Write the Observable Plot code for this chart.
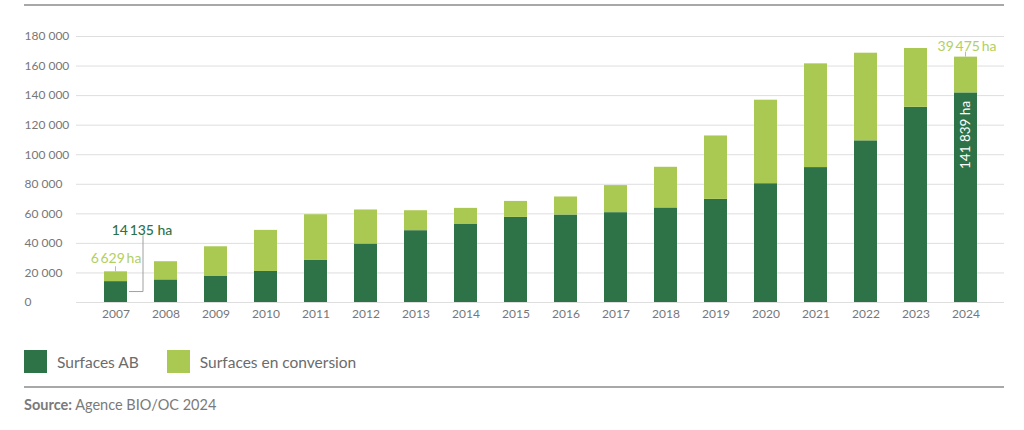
<!DOCTYPE html>
<html>
<head>
<meta charset="utf-8">
<script src="https://cdn.jsdelivr.net/npm/d3@7"></script>
<script src="https://cdn.jsdelivr.net/npm/@observablehq/plot@0.6"></script>
<style>
  html, body { margin: 0; padding: 0; background: #fff; }
  #wrap { position: relative; width: 1024px; height: 430px; font-family: "Lato", "Open Sans", sans-serif; overflow: hidden; }
  .hline { position: absolute; left: 24px; width: 980px; background: #a8a8a8; }
  #chart { position: absolute; left: 0; top: 0; }
  #legend { position: absolute; left: 24px; top: 350px; display: flex; align-items: center; font-size: 15.5px; color: #6b6b6b; }
  .sw { width: 23px; height: 23px; display: inline-block; margin-right: 10px; }
  .item { display: flex; align-items: center; margin-right: 28px; }
  #source { position: absolute; left: 24px; top: 396px; font-size: 14.5px; color: #7a7a7a; }
</style>
</head>
<body>
<div id="wrap">
  <div class="hline" style="top:4px;height:2px;"></div>
  <div id="chart"></div>
  <div id="legend"></div>
  <div class="hline" style="top:386px;height:1.5px;"></div>
  <div id="source"><b>Source:</b> Agence BIO/OC 2024</div>
</div>
<script>
// ---- Data ----
const years = ["2007","2008","2009","2010","2011","2012","2013","2014","2015","2016","2017","2018","2019","2020","2021","2022","2023","2024"];
const surfacesAB = [14135, 15300, 17900, 21000, 28700, 39600, 48600, 53100, 57600, 59200, 60800, 64000, 69800, 80400, 91300, 109400, 132100, 141839];
const surfacesConversion = [6629, 12300, 19800, 27800, 30700, 23000, 13500, 10600, 10800, 12200, 18300, 27500, 42900, 56500, 70200, 59300, 39800, 24200];
const seriesNames = ["Surfaces AB", "Surfaces en conversion"];
const seriesColors = ["#2e7247", "#a9c952"];
const yTicks = [0, 20000, 40000, 60000, 80000, 100000, 120000, 140000, 160000, 180000];
const labelFirstConv = "6\u2009629\u2009ha";
const labelFirstAB = "14\u2009135 ha";
const labelLastConv = "39\u2009475\u2009ha";
const labelLastAB = "141 839 ha";

// ---- Build table ----
const rows = years.flatMap((yr, i) => [
  {year: yr, series: seriesNames[0], value: surfacesAB[i]},
  {year: yr, series: seriesNames[1], value: surfacesConversion[i]}
]);
const totals = years.map((yr, i) => ({year: yr, total: surfacesAB[i] + surfacesConversion[i], ab: surfacesAB[i]}));
const first = totals[0], last = totals[totals.length - 1];
const fmt = d => d3.format(",")(d).replace(/,/g, " ");

const plot = Plot.plot({
  width: 1024,
  height: 330,
  marginTop: 36,
  marginBottom: 28,
  marginLeft: 76,
  marginRight: 20,
  style: {fontFamily: "Lato, 'Open Sans', sans-serif", fontSize: "12px", color: "#777", background: "transparent"},
  x: {type: "band", domain: years, paddingInner: 0.54, paddingOuter: 0.49, label: null},
  y: {domain: [0, 180000], label: null},
  color: {domain: seriesNames, range: seriesColors},
  marks: [
    Plot.gridY(yTicks, {stroke: "#dedede", strokeOpacity: 1, strokeWidth: 1}),
    Plot.axisY(yTicks, {tickSize: 0, tickPadding: 52, textAnchor: "start", tickFormat: fmt, fill: "#777", label: null}),
    Plot.axisX({tickSize: 0, tickPadding: 7, fill: "#777", label: null}),
    Plot.barY(rows, {x: "year", y: "value", fill: "series", order: seriesNames}),
    Plot.text([first], {x: "year", y: "total", text: () => labelFirstConv, dy: -13, dx: 0, fill: "#b3cf5e", fontSize: 14}),
    Plot.text([first], {x: "year", y: "total", text: () => labelFirstAB, dy: -41, dx: 26, fill: "#2e7247", fontSize: 14, fontWeight: 500}),
    Plot.text([last], {x: "year", y: "total", text: () => labelLastConv, dy: -11, dx: 1, fill: "#b3cf5e", fontSize: 14}),
    Plot.text([last], {x: "year", y: "ab", text: () => labelLastAB, rotate: -90, textAnchor: "end", dy: 8, fill: "#fff", fontSize: 13.5})
  ]
});
document.getElementById("chart").appendChild(plot);

// Leader lines positioned via the plot's own scales
const xs = plot.scale("x"), ys = plot.scale("y");
const bw = xs.bandwidth;
const svg = d3.select(plot);
const g = svg.append("g").attr("fill", "none").attr("stroke-width", 1);
const x0 = xs.apply(first.year), xL = xs.apply(last.year);
// 14 135 ha leader
g.append("path")
  .attr("stroke", "#a0a0a0")
  .attr("d", `M${x0 + bw + 2},${ys.apply(first.ab / 2)}H${x0 + bw + 16}V${ys.apply(first.total) - 36}`);
// 6 629 ha tick
g.append("path").attr("stroke", "#b3cf5e")
  .attr("d", `M${x0 + bw / 2},${ys.apply(first.total) - 5}V${ys.apply(first.total)}`);
// 39 475 ha tick
g.append("path").attr("stroke", "#b3cf5e")
  .attr("d", `M${xL + bw / 2},${ys.apply(last.total) - 5}V${ys.apply(last.total)}`);

// Legend
const legend = document.getElementById("legend");
seriesNames.forEach((name, i) => {
  const item = document.createElement("div");
  item.className = "item";
  item.innerHTML = `<span class="sw" style="background:${seriesColors[i]}"></span><span>${name}</span>`;
  legend.appendChild(item);
});
</script>
</body>
</html>
